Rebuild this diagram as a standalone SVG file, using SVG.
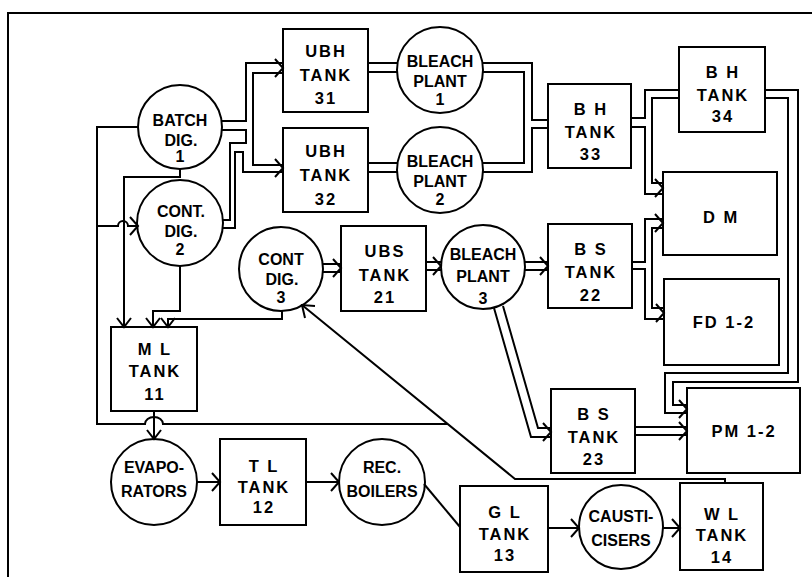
<svg xmlns="http://www.w3.org/2000/svg" width="812" height="577" viewBox="0 0 812 577">
<style>
.n{fill:#fff;stroke:#000;stroke-width:2}
.c path{fill:none;stroke:#000;stroke-width:2;stroke-linejoin:miter}
.c path.a{stroke-linejoin:miter}
text{font-family:"Liberation Sans",Arial,sans-serif;font-weight:bold;font-size:16px;text-anchor:middle;fill:#000}
.s{letter-spacing:2px;font-size:16.5px}
</style>
<rect width="812" height="577" fill="#fff"/>
<path d="M8,577 V13 H812" fill="none" stroke="#000" stroke-width="2"/>

<g id="batch-dig-1"><circle class="n" cx="180" cy="127" r="42"/><text x="180" y="126">BATCH</text><text x="181" y="146">DIG.</text><text x="180" y="162">1</text></g>
<g id="cont-dig-2"><circle class="n" cx="180" cy="223" r="43"/><text x="181" y="217">CONT.</text><text x="181" y="237">DIG.</text><text x="180" y="255">2</text></g>
<g id="ubh-tank-31"><rect class="n" x="283" y="29" width="85" height="83"/><text class="s" x="326" y="57">UBH</text><text class="s" x="326" y="81">TANK</text><text class="s" x="326" y="104">31</text></g>
<g id="ubh-tank-32"><rect class="n" x="283" y="128" width="85" height="84"/><text class="s" x="326" y="157">UBH</text><text class="s" x="326" y="181">TANK</text><text class="s" x="326" y="205">32</text></g>
<g id="bleach-plant-1"><circle class="n" cx="440" cy="70" r="43"/><text x="440" y="67">BLEACH</text><text x="440" y="87">PLANT</text><text x="440" y="105">1</text></g>
<g id="bleach-plant-2"><circle class="n" cx="440" cy="170" r="43"/><text x="440" y="167">BLEACH</text><text x="440" y="187">PLANT</text><text x="440" y="205">2</text></g>
<g id="bh-tank-33"><rect class="n" x="548" y="84" width="83" height="84"/><text class="s" x="591" y="115">B H</text><text class="s" x="591" y="138">TANK</text><text class="s" x="591" y="160">33</text></g>
<g id="bh-tank-34"><rect class="n" x="679" y="47" width="86" height="85"/><text class="s" x="723" y="78">B H</text><text class="s" x="723" y="101">TANK</text><text class="s" x="723" y="122">34</text></g>
<g id="dm"><rect class="n" x="663" y="172" width="114" height="83"/><text class="s" x="721" y="223">D M</text></g>
<g id="fd-1-2"><rect class="n" x="664" y="279" width="115" height="86"/><text class="s" x="724" y="328">FD 1-2</text></g>
<g id="pm-1-2"><rect class="n" x="687" y="388" width="113" height="85"/><text class="s" x="744" y="437">PM 1-2</text></g>
<g id="ubs-tank-21"><rect class="n" x="341" y="226" width="85" height="85"/><text class="s" x="385" y="257">UBS</text><text class="s" x="385" y="281">TANK</text><text class="s" x="385" y="303">21</text></g>
<g id="cont-dig-3"><circle class="n" cx="281" cy="269" r="42"/><text x="281" y="265">CONT</text><text x="282" y="285">DIG.</text><text x="281" y="303">3</text></g>
<g id="bleach-plant-3"><circle class="n" cx="483" cy="267" r="42"/><text x="483" y="260">BLEACH</text><text x="483" y="282">PLANT</text><text x="483" y="304">3</text></g>
<g id="bs-tank-22"><rect class="n" x="548" y="224" width="84" height="84"/><text class="s" x="591" y="255">B S</text><text class="s" x="591" y="278">TANK</text><text class="s" x="591" y="301">22</text></g>
<g id="bs-tank-23"><rect class="n" x="551" y="389" width="84" height="84"/><text class="s" x="594" y="420">B S</text><text class="s" x="594" y="443">TANK</text><text class="s" x="594" y="465">23</text></g>
<g id="ml-tank-11"><rect class="n" x="111" y="327" width="86" height="84"/><text class="s" x="155" y="355">M L</text><text class="s" x="155" y="377">TANK</text><text class="s" x="155" y="400">11</text></g>
<g id="evaporators"><circle class="n" cx="154" cy="482" r="43"/><text x="154" y="473">EVAPO-</text><text x="154" y="497">RATORS</text></g>
<g id="tl-tank-12"><rect class="n" x="220" y="439" width="86" height="86"/><text class="s" x="264" y="472">T L</text><text class="s" x="264" y="493">TANK</text><text class="s" x="264" y="513">12</text></g>
<g id="rec-boilers"><circle class="n" cx="382" cy="482" r="43"/><text x="382" y="473">REC.</text><text x="382" y="497">BOILERS</text></g>
<g id="gl-tank-13"><rect class="n" x="460" y="486" width="88" height="86"/><text class="s" x="505" y="518">G L</text><text class="s" x="505" y="540">TANK</text><text class="s" x="505" y="561">13</text></g>
<g id="causticisers"><circle class="n" cx="621" cy="527" r="42"/><text x="621" y="522">CAUSTI-</text><text x="621" y="546">CISERS</text></g>
<g id="wl-tank-14"><rect class="n" x="680" y="483" width="83" height="87"/><text class="s" x="722" y="520">W L</text><text class="s" x="722" y="541">TANK</text><text class="s" x="722" y="563">14</text></g>

<g id="connectors" class="c">
<path d="M221,121 H246 V63 H283"/>
<path d="M283,73 H253 V165 H283"/>
<path d="M222,130 H246 V143 H230 V220 H222"/>
<path d="M222,228 H235 V152 H243 V172 H283"/>
<path class="a" d="M275,59 L283,68 L275,77"/>
<path class="a" d="M275,159 L283,168 L275,177"/>
<path d="M368,63 H398 M368,72 H398"/>
<path d="M368,163 H398 M368,172 H398"/>
<path d="M482,63 H532 V120 H548"/>
<path d="M482,72 H524 V163 H482"/>
<path d="M483,172 H532 V128 H548"/>
<path d="M631,118 H645 V90 H679"/>
<path d="M679,98 H652 V183 H663"/>
<path d="M631,127 H645 V194 H663"/>
<path class="a" d="M655,179 L663,188 L655,197"/>
<path d="M632,262 H645 V219 H663"/>
<path d="M663,228 H652 V308 H664"/>
<path d="M632,269 H645 V319 H664"/>
<path class="a" d="M655,214 L663,223 L655,232"/>
<path class="a" d="M656,304 L664,313 L656,322"/>
<path d="M765,90 H798 V382 H673 V405 H687"/>
<path d="M765,98 H788 V373 H665 V413 H687"/>
<path class="a" d="M679,400 L687,409 L679,418"/>
<path d="M635,427 H687 M635,435 H687"/>
<path class="a" d="M679,422 L687,431 L679,440"/>
<path d="M494,308 L531,437 H551"/>
<path d="M503,306 L538,428 H551"/>
<path class="a" d="M543,423 L551,432 L543,441"/>
<path d="M426,262 H441 M426,270 H441"/>
<path class="a" d="M433,257 L441,266 L433,275"/>
<path d="M525,262 H548 M525,270 H548"/>
<path class="a" d="M540,257 L548,266 L540,275"/>
<path d="M323,264 H341 M323,272 H341"/>
<path class="a" d="M333,259 L341,268 L333,277"/>
<path d="M725,483 V479 H515 L302,305"/>
<path class="a" d="M315,306 L302,305 L305,318"/>
<path d="M138,127 H97 V424 H145 A9,7 0 0 1 163,424 H448"/>
<path d="M97,226 H118 A5,5 0 0 1 128,226 H137"/>
<path class="a" d="M130,217 L138,226 L130,235"/>
<path d="M180,169 V177 H124 V327"/>
<path class="a" d="M117,318 L124,327 L131,318"/>
<path d="M180,266 V311 H153 V327"/>
<path class="a" d="M146,318 L153,327 L160,318"/>
<path d="M282,311 V319 H168 V327"/>
<path class="a" d="M161,318 L168,327 L175,318"/>
<path d="M154,411 V439"/>
<path class="a" d="M147,430 L154,439 L161,430"/>
<path d="M197,482 H220"/>
<path class="a" d="M212,473 L220,482 L212,491"/>
<path d="M306,482 H339"/>
<path class="a" d="M331,473 L339,482 L331,491"/>
<path d="M424,484 L460,527"/>
<path d="M548,528 H579"/>
<path class="a" d="M571,519 L579,528 L571,537"/>
<path d="M663,528 H680"/>
<path class="a" d="M672,519 L680,528 L672,537"/>
</g>
</svg>
